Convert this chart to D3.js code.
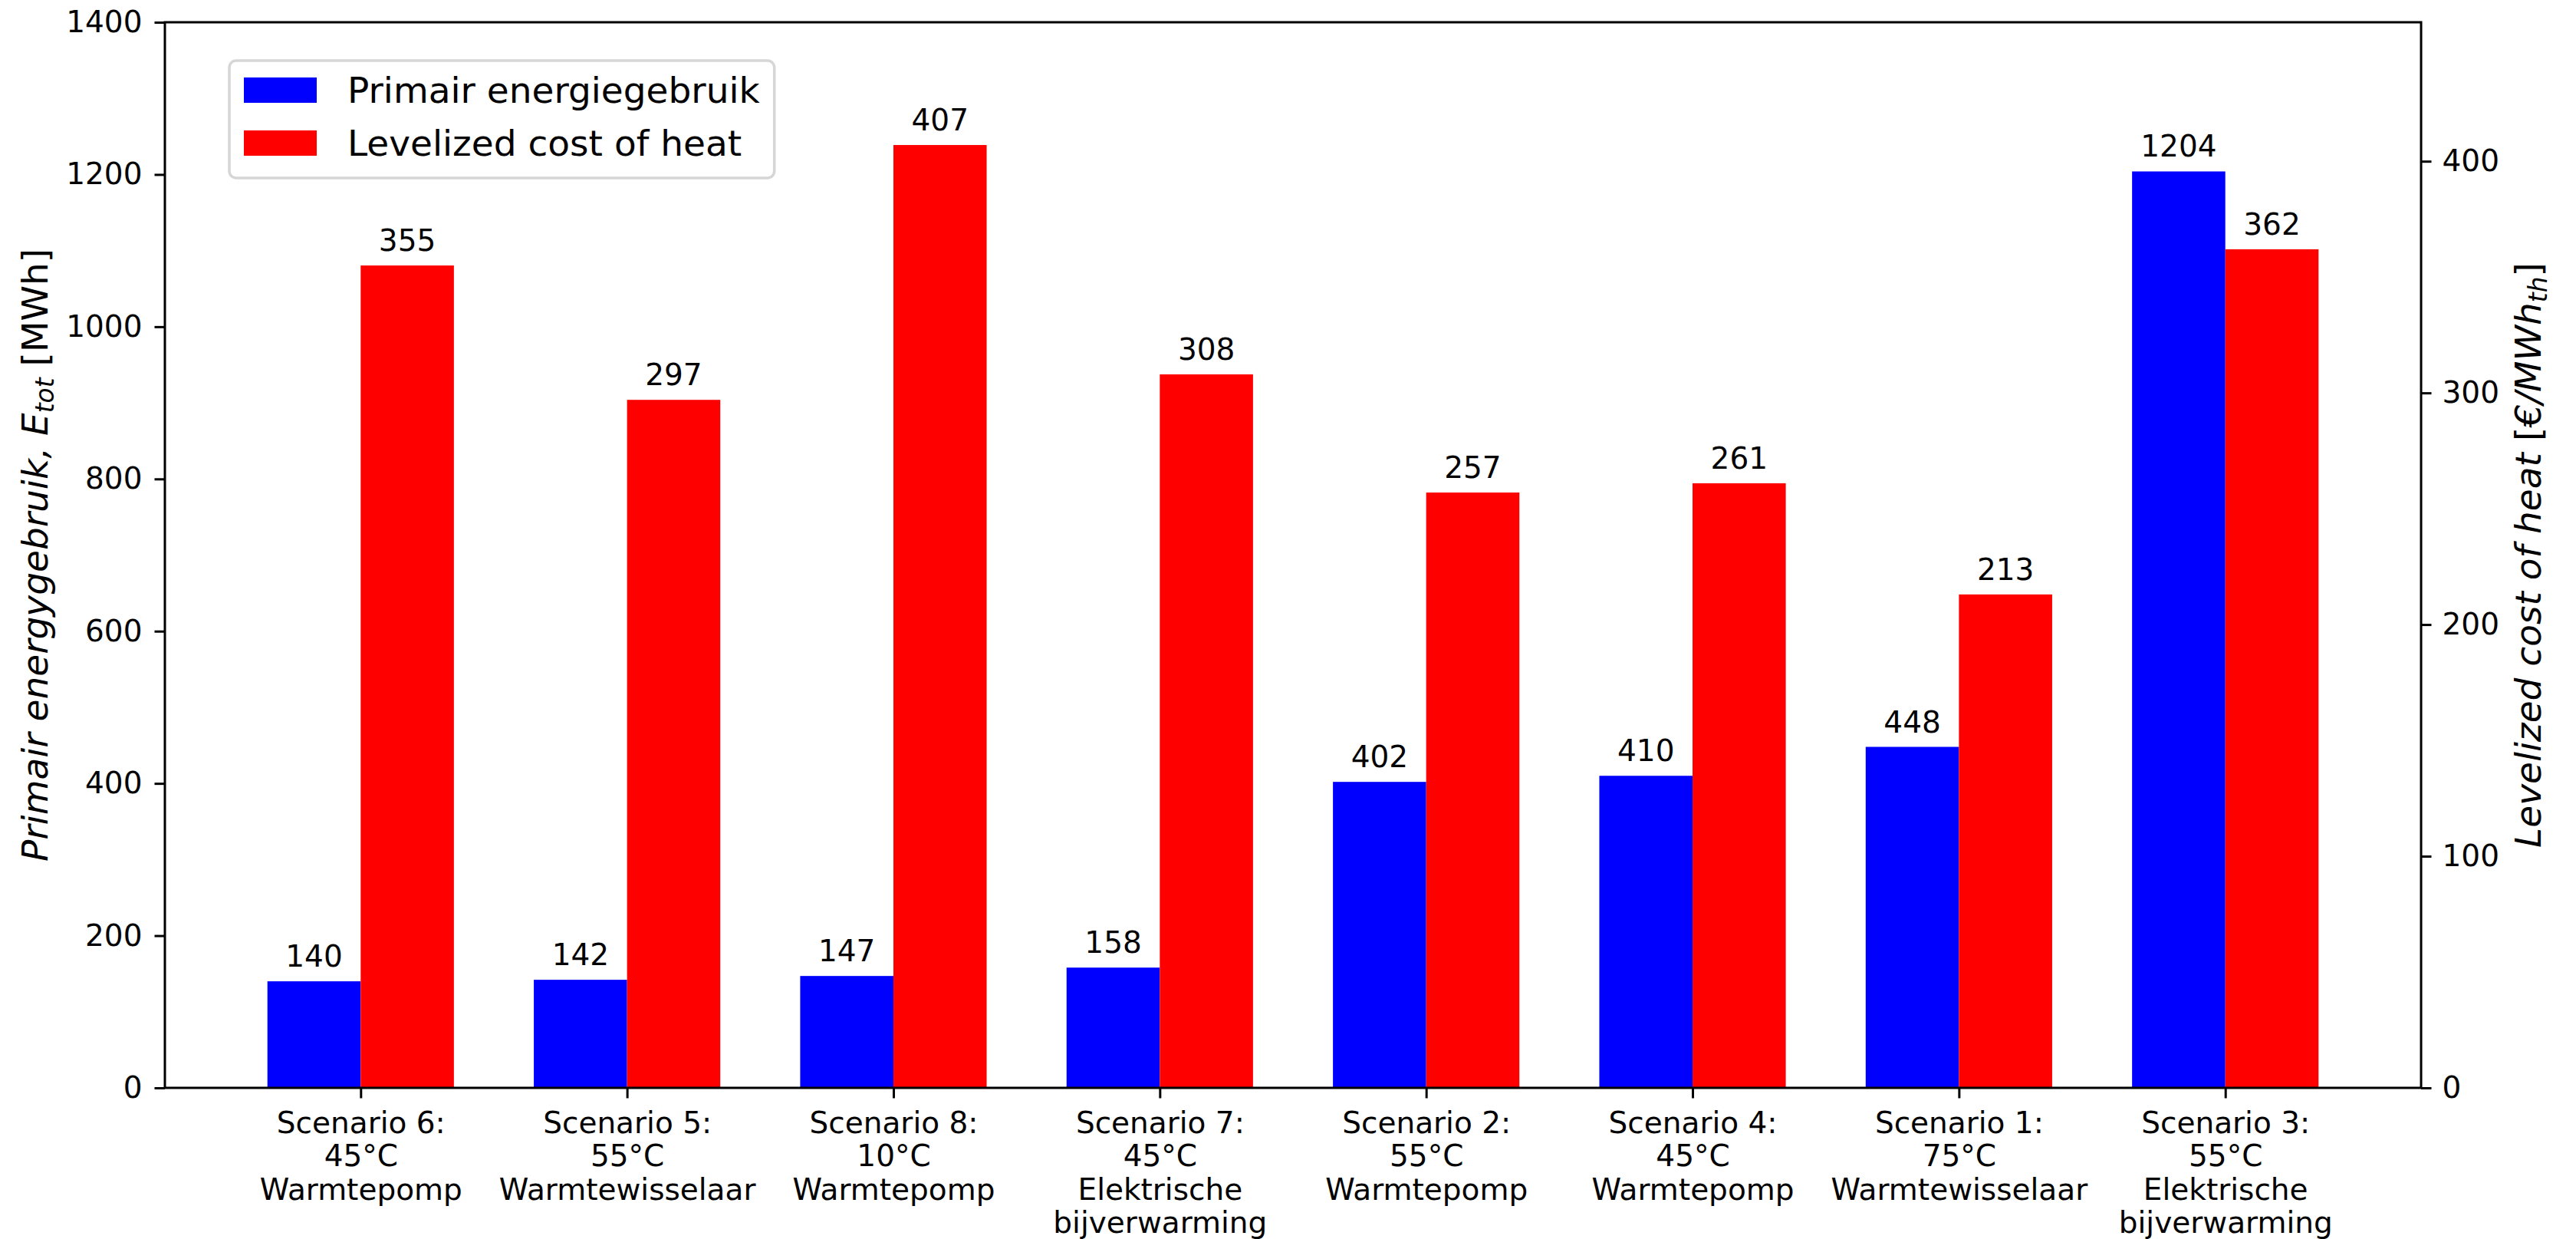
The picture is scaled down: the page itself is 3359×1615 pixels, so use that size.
<!DOCTYPE html>
<html>
<head>
<meta charset="utf-8">
<script src="https://cdn.jsdelivr.net/npm/d3@7"></script>
<style>
  html, body { margin: 0; padding: 0; background: #ffffff; }
  svg { display: block; font-family: "DejaVu Sans", sans-serif; }
</style>
</head>
<body>
<svg id="chart" width="3359" height="1615"></svg>
<script>
// Scenario labels (one entry per line of the tick label)
const scenarios = [
  ["Scenario 6:", "45°C", "Warmtepomp"],
  ["Scenario 5:", "55°C", "Warmtewisselaar"],
  ["Scenario 8:", "10°C", "Warmtepomp"],
  ["Scenario 7:", "45°C", "Elektrische", "bijverwarming"],
  ["Scenario 2:", "55°C", "Warmtepomp"],
  ["Scenario 4:", "45°C", "Warmtepomp"],
  ["Scenario 1:", "75°C", "Warmtewisselaar"],
  ["Scenario 3:", "55°C", "Elektrische", "bijverwarming"]
];
// Primary energy use [MWh]
const energyUse = [140, 142, 147, 158, 402, 410, 448, 1204];
// Levelized cost of heat [€/MWh_th]
const lcoh = [355, 297, 407, 308, 257, 261, 213, 362];

const leftTicks = [0, 200, 400, 600, 800, 1000, 1200, 1400];
const rightTicks = [0, 100, 200, 300, 400];
const seriesNames = ["Primair energiegebruik", "Levelized cost of heat"];
const seriesColors = ["#0000ff", "#ff0000"];

const barWidth = 0.35;
const plot = { left: 215, right: 3157, top: 29, bottom: 1418 };
const tickFont = 39;
const labelFont = 47;
const tickLen = 13.5;

const svg = d3.select("#chart");

const x = d3.scaleLinear()
  .domain([-barWidth - 0.05 * (scenarios.length - 1 + 2 * barWidth),
           scenarios.length - 1 + barWidth + 0.05 * (scenarios.length - 1 + 2 * barWidth)])
  .range([plot.left, plot.right]);
const yLeft = d3.scaleLinear().domain([0, 1400]).range([plot.bottom, plot.top]);
const yRight = d3.scaleLinear().domain([0, 460]).range([plot.bottom, plot.top]);

const idx = d3.range(scenarios.length);

// Bars: energy on the left axis, cost on the right axis
svg.append("g").selectAll("rect").data(idx).join("rect")
  .attr("x", i => x(i - barWidth))
  .attr("width", i => x(i) - x(i - barWidth))
  .attr("y", i => yLeft(energyUse[i]))
  .attr("height", i => yLeft(0) - yLeft(energyUse[i]))
  .attr("fill", seriesColors[0]);

svg.append("g").selectAll("rect").data(idx).join("rect")
  .attr("x", i => x(i))
  .attr("width", i => x(i + barWidth) - x(i))
  .attr("y", i => yRight(lcoh[i]))
  .attr("height", i => yRight(0) - yRight(lcoh[i]))
  .attr("fill", seriesColors[1]);

// Value labels above the bars
const valueGap = 19;
svg.append("g").selectAll("text").data(idx).join("text")
  .attr("x", i => x(i - barWidth / 2))
  .attr("y", i => yLeft(energyUse[i]) - valueGap)
  .attr("text-anchor", "middle")
  .attr("font-size", tickFont)
  .attr("fill", "#000")
  .text(i => energyUse[i]);

svg.append("g").selectAll("text").data(idx).join("text")
  .attr("x", i => x(i + barWidth / 2))
  .attr("y", i => yRight(lcoh[i]) - valueGap)
  .attr("text-anchor", "middle")
  .attr("font-size", tickFont)
  .attr("fill", "#000")
  .text(i => lcoh[i]);

// Axes
function styleAxis(g) {
  g.selectAll(".domain").remove();
  g.selectAll(".tick line").attr("stroke", "#000").attr("stroke-width", 3);
  g.selectAll(".tick text")
    .attr("font-family", "DejaVu Sans, sans-serif")
    .attr("font-size", tickFont)
    .attr("fill", "#000");
}

svg.append("g")
  .attr("transform", `translate(${plot.left},0)`)
  .call(d3.axisLeft(yLeft).tickValues(leftTicks).tickSize(tickLen).tickPadding(16).tickFormat(d3.format("d")))
  .call(styleAxis);

svg.append("g")
  .attr("transform", `translate(${plot.right},0)`)
  .call(d3.axisRight(yRight).tickValues(rightTicks).tickSize(tickLen).tickPadding(14).tickFormat(d3.format("d")))
  .call(styleAxis);

const xAxis = svg.append("g")
  .attr("transform", `translate(0,${plot.bottom})`)
  .call(d3.axisBottom(x).tickValues(idx).tickSize(tickLen).tickFormat(""))
  .call(styleAxis);

// Multi-line scenario labels
const lineStep = 43.3;
xAxis.selectAll(".tick").each(function(i) {
  const t = d3.select(this).append("text")
    .attr("text-anchor", "middle")
    .attr("font-family", "DejaVu Sans, sans-serif")
    .attr("font-size", tickFont)
    .attr("fill", "#000");
  scenarios[i].forEach((line, k) => {
    t.append("tspan").attr("x", 0).attr("y", 59 + k * lineStep).text(line);
  });
});

// Frame around the plot area
svg.append("rect")
  .attr("x", plot.left).attr("y", plot.top)
  .attr("width", plot.right - plot.left).attr("height", plot.bottom - plot.top)
  .attr("fill", "none").attr("stroke", "#000").attr("stroke-width", 3);

// Axis titles
const leftTitle = svg.append("text")
  .attr("transform", `translate(62,${(plot.top + plot.bottom) / 2}) rotate(-90)`)
  .attr("text-anchor", "middle")
  .attr("font-size", labelFont)
  .attr("fill", "#000");
leftTitle.append("tspan").attr("font-style", "italic").text("Primair energygebruik, E");
leftTitle.append("tspan").attr("font-style", "italic").attr("font-size", labelFont * 0.7).attr("dy", 8).text("tot");
leftTitle.append("tspan").attr("dy", -8).text(" [MWh]");

const rightTitle = svg.append("text")
  .attr("transform", `translate(3313,${(plot.top + plot.bottom) / 2}) rotate(-90)`)
  .attr("text-anchor", "middle")
  .attr("font-size", labelFont)
  .attr("fill", "#000");
rightTitle.append("tspan").attr("font-style", "italic").text("Levelized cost of heat ");
rightTitle.append("tspan").text("[");
rightTitle.append("tspan").attr("font-style", "italic").text("€/MWh");
rightTitle.append("tspan").attr("font-style", "italic").attr("font-size", labelFont * 0.7).attr("dy", 8).text("th");
rightTitle.append("tspan").attr("dy", -8).text("]");

// Legend
const legend = svg.append("g");
const legendBox = legend.append("rect")
  .attr("x", 299).attr("y", 79).attr("height", 153)
  .attr("rx", 9).attr("ry", 9)
  .attr("fill", "#ffffff").attr("fill-opacity", 0.8)
  .attr("stroke", "#d6d6d6").attr("stroke-width", 3.5);
const legendRows = [101, 170];
let maxEnd = 0;
seriesNames.forEach((name, k) => {
  legend.append("rect")
    .attr("x", 318).attr("y", legendRows[k]).attr("width", 95).attr("height", 33)
    .attr("fill", seriesColors[k]);
  const t = legend.append("text")
    .attr("x", 453).attr("y", legendRows[k] + 33)
    .attr("font-size", labelFont).attr("fill", "#000")
    .text(name);
  maxEnd = Math.max(maxEnd, 453 + t.node().getComputedTextLength());
});
legendBox.attr("width", maxEnd + 19 - 299);
</script>
</body>
</html>
